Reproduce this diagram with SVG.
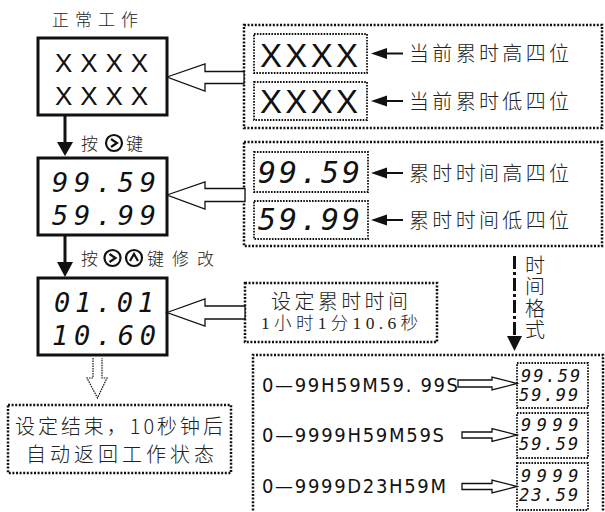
<svg xmlns="http://www.w3.org/2000/svg" width="605" height="512" viewBox="0 0 605 512">
<style>
.bg{fill:#fff}
.box{fill:#fff;stroke:#111;stroke-width:3}
.dot{fill:none;stroke:#111;stroke-width:2.5;stroke-dasharray:2 1.6}
.dots{fill:none;stroke:#111;stroke-width:1.8;stroke-dasharray:1.6 1.3}
.cjk{font-family:"Noto Sans CJK SC",sans-serif;font-size:20px;font-weight:300;fill:#222}
.cjk17{font-family:"Noto Sans CJK SC",sans-serif;font-size:17px;font-weight:300;fill:#222}
.ser{font-family:"Liberation Serif","Noto Sans CJK SC",serif;font-size:17.5px;font-weight:300;fill:#222}
.x{font-family:"Liberation Sans",Arial,sans-serif;fill:#111}
.seg{font-family:"DejaVu Sans Mono",monospace;font-style:italic;fill:#111}
.small{font-size:17px}
.fmt{font-family:"DejaVu Sans","Liberation Sans",sans-serif;font-stretch:condensed;font-size:20px;fill:#111}
.hollow{fill:#fff;stroke:#111;stroke-width:1.3;stroke-linejoin:miter}
.solid{fill:#111;stroke:none}
.ln{stroke:#111;fill:none}
.icon{fill:none;stroke:#111;stroke-width:2.2}
</style>
<rect class="bg" x="0" y="0" width="605" height="512"/>

<g id="title">
<text class="cjk17" x="52" y="26" textLength="86" lengthAdjust="spacing">正常工作</text>
</g>

<g id="box-normal">
<rect class="box" x="38" y="38" width="129" height="77"/>
<text class="x" x="55" y="72" font-size="26" textLength="93" lengthAdjust="spacing">XXXX</text>
<text class="x" x="55" y="105" font-size="26" textLength="93" lengthAdjust="spacing">XXXX</text>
</g>

<g id="box-time">
<rect class="box" x="38" y="158" width="129" height="77"/>
<text class="seg" x="52" y="192" font-size="27" textLength="104" lengthAdjust="spacing">99.59</text>
<text class="seg" x="52" y="225" font-size="27" textLength="104" lengthAdjust="spacing">59.99</text>
</g>

<g id="box-edit">
<rect class="box" x="38" y="278" width="129" height="77"/>
<text class="seg" x="54" y="312" font-size="27" textLength="100" lengthAdjust="spacing">01.01</text>
<text class="seg" x="52" y="345" font-size="27" textLength="104" lengthAdjust="spacing">10.60</text>
</g>

<g id="label-key1">
<text class="cjk17" x="81" y="149.5">按</text>
<circle class="icon" cx="114" cy="143" r="8"/>
<path class="icon" d="M111,139 L117,143 L111,147"/>
<text class="cjk17" x="126" y="149.5">键</text>
</g>

<g id="label-key2">
<text class="cjk17" x="81" y="264.5">按</text>
<circle class="icon" cx="112.5" cy="258" r="8"/>
<path class="icon" d="M109.5,254 L115.5,258 L109.5,262"/>
<circle class="icon" cx="134" cy="258" r="8"/>
<path class="icon" d="M130,261 L134,254 L138,261"/>
<text class="cjk17" x="147" y="264.5" textLength="67" lengthAdjust="spacing">键修改</text>
</g>

<g id="panel-current">
<rect class="dot" x="244" y="25" width="358" height="103"/>
<rect class="dots" x="254" y="34" width="113" height="39"/>
<rect class="dots" x="254" y="82" width="113" height="38"/>
<text class="x" x="260" y="67" font-size="33" textLength="98" lengthAdjust="spacing">XXXX</text>
<text class="x" x="260" y="113" font-size="33" textLength="98" lengthAdjust="spacing">XXXX</text>
<text class="cjk" x="409" y="61" textLength="160" lengthAdjust="spacing">当前累时高四位</text>
<text class="cjk" x="409" y="108.5" textLength="160" lengthAdjust="spacing">当前累时低四位</text>
</g>

<g id="panel-accum">
<rect class="dot" x="244" y="142" width="358" height="104"/>
<rect class="dots" x="254" y="152" width="114" height="40"/>
<rect class="dots" x="254" y="201" width="114" height="38"/>
<text class="seg" x="258" y="183" font-size="30" textLength="102" lengthAdjust="spacing">99.59</text>
<text class="seg" x="258" y="230" font-size="30" textLength="102" lengthAdjust="spacing">59.99</text>
<text class="cjk" x="409" y="180.5" textLength="160" lengthAdjust="spacing">累时时间高四位</text>
<text class="cjk" x="409" y="227.5" textLength="160" lengthAdjust="spacing">累时时间低四位</text>
</g>

<g id="panel-set">
<rect class="dot" x="245" y="283" width="192" height="59"/>
<text class="cjk" x="271" y="308.5" font-size="18" textLength="137" lengthAdjust="spacing">设定累时时间</text>
<text class="ser" x="261" y="328.5" textLength="157" lengthAdjust="spacing">1小时1分10.6秒</text>
</g>

<g id="panel-end">
<rect class="dot" x="8" y="405" width="223" height="68"/>
<text class="cjk" x="15" y="434" textLength="208" lengthAdjust="spacing">设定结束，10秒钟后</text>
<text class="cjk" x="26" y="462" textLength="188" lengthAdjust="spacing">自动返回工作状态</text>
</g>

<g id="label-format">
<text class="cjk" x="535" y="255" writing-mode="vertical-rl" font-size="19" letter-spacing="1.5">时间格式</text>
</g>

<g id="panel-formats">
<path class="dot" d="M253,514 L253,355 L603,355 L603,514"/>
<text class="fmt" x="262" y="392" textLength="196" lengthAdjust="spacing">0—99H59M59. 99S</text>
<text class="fmt" x="262" y="442" textLength="182" lengthAdjust="spacing">0—9999H59M59S</text>
<text class="fmt" x="262" y="493" textLength="184" lengthAdjust="spacing">0—9999D23H59M</text>
<rect class="dots" x="517" y="363" width="71" height="45"/>
<rect class="dots" x="517" y="413" width="71" height="45"/>
<rect class="dots" x="517" y="463" width="71" height="47"/>
<text class="seg small"><tspan x="521" y="382" letter-spacing="2">99.59</tspan><tspan x="519" y="401" letter-spacing="2">59.99</tspan></text>
<text class="seg small"><tspan x="521" y="431" letter-spacing="5.5">9999</tspan><tspan x="519" y="450" letter-spacing="2">59.59</tspan></text>
<text class="seg small"><tspan x="521" y="482" letter-spacing="5.5">9999</tspan><tspan x="519" y="501" letter-spacing="2">23.59</tspan></text>
</g>

<g id="connectors">
<polygon class="hollow" points="167,77 205,64 205,71.5 244,71.5 244,83.5 205,83.5 205,91"/>
<polygon class="hollow" points="167,195 205,182 205,188.5 245,188.5 245,201.5 205,201.5 205,209"/>
<polygon class="hollow" points="167,312.5 205,299 205,306 245,306 245,319 205,319 205,326"/>
<line class="ln" x1="65" y1="116" x2="65" y2="143" stroke-width="3"/>
<polygon class="solid" points="57,142 73,142 65,156"/>
<line class="ln" x1="65" y1="236" x2="65" y2="263" stroke-width="3"/>
<polygon class="solid" points="57,262 73,262 65,277"/>
<polygon class="solid" points="371,53.5 387,48 387,59"/>
<line class="ln" x1="386" y1="53.5" x2="403" y2="53.5" stroke-width="2"/>
<polygon class="solid" points="371,101 387,95.5 387,106.5"/>
<line class="ln" x1="386" y1="101" x2="403" y2="101" stroke-width="2"/>
<polygon class="solid" points="371,173 387,167.5 387,178.5"/>
<line class="ln" x1="386" y1="173" x2="403" y2="173" stroke-width="2"/>
<polygon class="solid" points="371,220 387,214.5 387,225.5"/>
<line class="ln" x1="386" y1="220" x2="403" y2="220" stroke-width="2"/>
<line class="ln" x1="514.5" y1="256" x2="514.5" y2="337" stroke-width="3" stroke-dasharray="13 3 3 3"/>
<polygon class="solid" points="507,336 522,336 514.5,351"/>
<polyline class="ln" points="93,358 93,378 87,378 97.5,398 107,378 102,378 102,358" stroke-width="1.2" stroke-dasharray="1.5 1"/>
<polygon class="hollow" points="458,380 492,380 492,377 517,383.5 492,390 492,387 458,387"/>
<polygon class="hollow" points="462,432 492,432 492,428.5 517,435 492,441.5 492,438 462,438"/>
<polygon class="hollow" points="462,483.5 492,483.5 492,480 517,486.5 492,493 492,489.5 462,489.5"/>
</g>
</svg>
